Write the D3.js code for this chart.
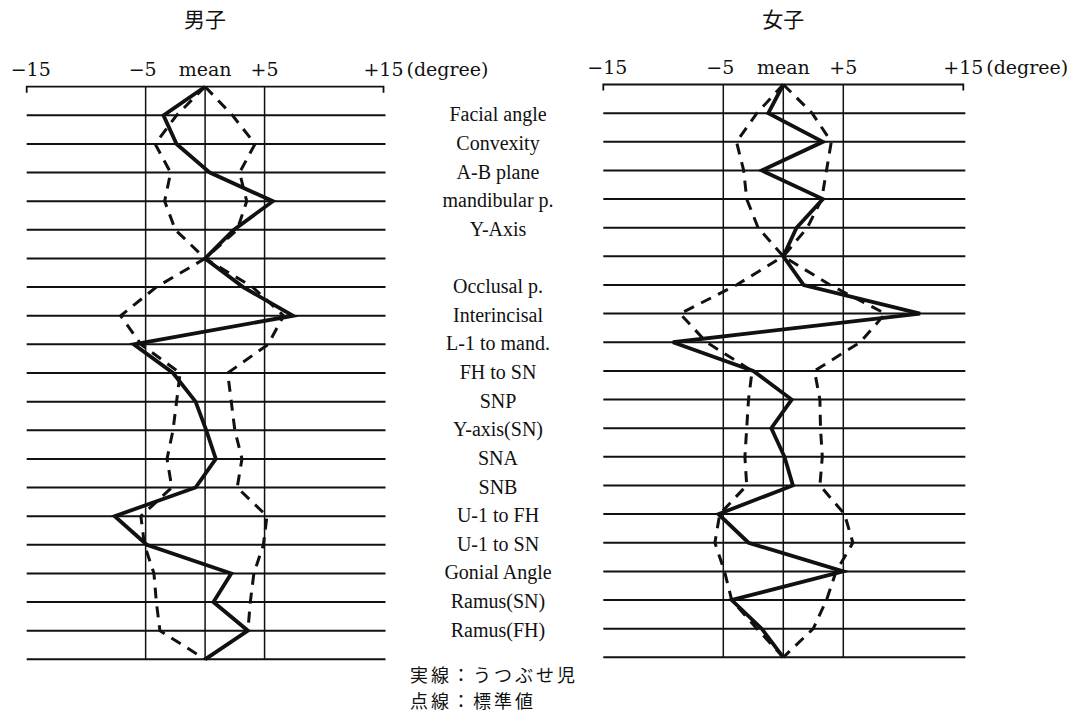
<html>
<head>
    <meta charset="utf-8">
    <script src="https://d3js.org/d3.v7.min.js"></script>
    <title>Polygon chart</title>
    <style>
        body { margin: 0; background: #fff; }
        .grid line { stroke: #111; }
        .serif { font-family: "Liberation Serif", "DejaVu Serif", serif; fill: #111; }
        .wide { font-family: "DejaVu Serif", serif; fill: #111; }
        .jp { font-family: "Noto Sans CJK JP", sans-serif; fill: #111; }
    </style>
</head>
<body>
<svg id="chart" width="1080" height="713"></svg>
<script>
    // row labels (row 0, 6 and 20 are the anchor rows at the mean, no label)
    const rowLabels = ["", "Facial angle", "Convexity", "A-B plane", "mandibular p.", "Y-Axis", "",
                       "Occlusal p.", "Interincisal", "L-1 to mand.", "FH to SN", "SNP", "Y-axis(SN)",
                       "SNA", "SNB", "U-1 to FH", "U-1 to SN", "Gonial Angle", "Ramus(SN)", "Ramus(FH)", ""];

    const tickValues = [-15, -5, 0, 5, 15];
    const tickLabels = ["\u221215", "\u22125", "mean", "+5", "+15"];
    const gridValues = [-5, 0, 5];

    // 男子 : solid = うつぶせ児, dashed = standard (low / high)
    const boySolid = [0, -3.5, -2.4, 0.4, 5.7, 2.4, 0, 3.2, 7.4, -6.0, -2.7, -0.8, 0.1, 0.9, -0.8, -7.6, -4.9, 2.2, 0.7, 3.6, 0];
    const boyLow   = [0, -2.4, -4.2, -2.9, -3.4, -2.5, 0, -4.1, -7.1, -5.4, -2.1, -2.4, -2.7, -3.2, -2.8, -5.4, -5.1, -4.3, -4.1, -3.8, 0];
    const boyHigh  = [0, 2.3, 4.2, 2.9, 3.5, 2.7, 0, 4.0, 6.6, 5.3, 1.9, 2.2, 2.5, 3.1, 2.7, 5.2, 4.9, 4.1, 3.8, 3.6, 0];

    // 女子
    const girlSolid = [0, -1.25, 3.3, -1.8, 3.3, 1.1, 0, 1.7, 11.4, -9.2, -2.5, 0.7, -1.0, 0.1, 0.8, -5.4, -2.9, 5.0, -4.3, -1.8, 0];
    const girlLow   = [0, -2.2, -3.9, -3.3, -3.05, -2.1, 0, -3.9, -8.6, -6.4, -2.6, -2.9, -3.05, -3.2, -3.05, -5.3, -5.7, -4.9, -4.3, -2.2, 0];
    const girlHigh  = [0, 2.4, 4.0, 3.6, 3.2, 2.0, 0, 3.9, 8.5, 6.4, 2.6, 3.05, 3.1, 3.25, 3.05, 5.1, 5.8, 4.4, 3.6, 2.5, 0];

    const svg = d3.select("svg#chart");

    function drawPanel(opt) {
        const xScale = d3.scaleLinear().domain([-15, 15]).range([opt.left, opt.right]);
        const yScale = d3.scaleLinear().domain([0, 20]).range([opt.top, opt.bottom]);
        const g = svg.append("g");

        // title, centred over the mean line
        g.append("text").attr("class", "jp")
            .attr("x", xScale(0)).attr("y", 27)
            .attr("text-anchor", "middle")
            .style("font-size", "21px")
            .text(opt.title);

        // scale labels
        g.selectAll("text.tick").data(tickValues).join("text")
            .attr("class", "wide tick")
            .attr("x", d => xScale(d) + (d === -15 ? 4 : d === -5 ? -3 : 0))
            .attr("y", opt.top - 11)
            .attr("text-anchor", "middle")
            .style("font-size", "19px")
            .text((d, i) => tickLabels[i]);
        g.append("text").attr("class", "wide")
            .attr("x", xScale(15) + 23).attr("y", opt.top - 11)
            .style("font-size", "19px")
            .text("(degree)");

        // top bracket
        g.append("path")
            .attr("d", `M${xScale(-15)},${opt.top + 6}V${opt.top}H${xScale(15)}V${opt.top + 6}`)
            .attr("fill", "none").attr("stroke", "#111").attr("stroke-width", 1.8);

        // horizontal row lines
        g.append("g").attr("class", "grid")
            .selectAll("line").data(d3.range(1, 21)).join("line")
            .attr("x1", xScale(-15)).attr("x2", xScale(15) + 2)
            .attr("y1", d => yScale(d)).attr("y2", d => yScale(d))
            .attr("stroke-width", 2);

        // vertical lines at -5, mean, +5
        g.append("g").attr("class", "grid")
            .selectAll("line").data(gridValues).join("line")
            .attr("x1", d => xScale(d)).attr("x2", d => xScale(d))
            .attr("y1", opt.top).attr("y2", opt.bottom)
            .attr("stroke-width", 1.5);

        const line = d3.line().x(d => xScale(d[1])).y(d => yScale(d[0]));

        [opt.low, opt.high].forEach(arr => {
            g.append("path")
                .attr("d", line(arr.map((v, i) => [i, v])))
                .attr("fill", "none").attr("stroke", "#111")
                .attr("stroke-width", 3)
                .attr("stroke-dasharray", "11,8");
        });

        g.append("path")
            .attr("d", line(opt.solid.map((v, i) => [i, v])))
            .attr("fill", "none").attr("stroke", "#111")
            .attr("stroke-width", 3.8)
            .attr("stroke-linejoin", "miter");

        return yScale;
    }

    const yLeft = drawPanel({title: "男子", left: 26.7, right: 383.5, top: 86.7, bottom: 659.3,
                             solid: boySolid, low: boyLow, high: boyHigh});
    drawPanel({title: "女子", left: 603.3, right: 963.3, top: 84.5, bottom: 657.3,
               solid: girlSolid, low: girlLow, high: girlHigh});

    // row labels in the middle
    svg.append("g").selectAll("text").data(rowLabels).join("text")
        .attr("class", "serif")
        .attr("x", 498)
        .attr("y", (d, i) => yLeft(i) + 6)
        .attr("text-anchor", "middle")
        .style("font-size", "20px")
        .text(d => d);

    // legend, two lines in one text block
    const legend = svg.append("text").attr("class", "jp")
        .attr("x", 410).attr("y", 682)
        .style("font-size", "18px")
        .style("letter-spacing", "3px");
    legend.append("tspan").attr("x", 410).attr("y", 682).text("実線：うつぶせ児");
    legend.append("tspan").attr("x", 410).attr("y", 708).text("点線：標準値");
</script>
</body>
</html>
